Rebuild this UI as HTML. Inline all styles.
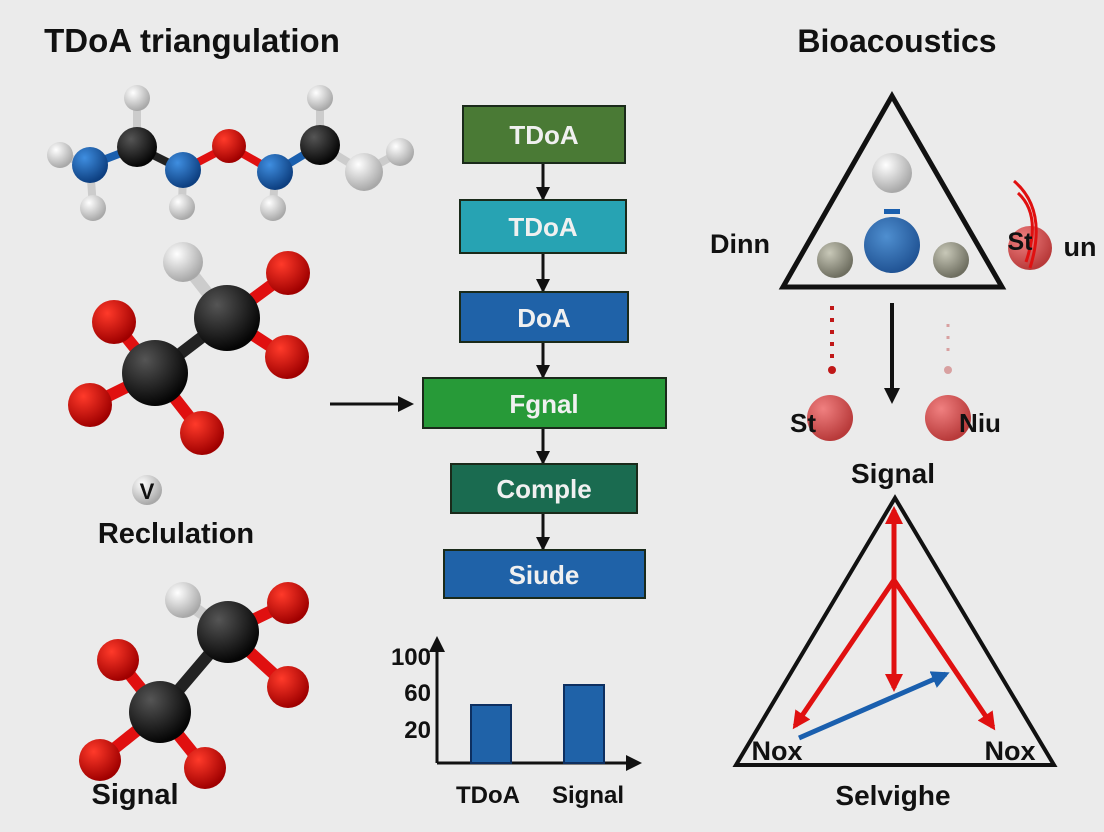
<!DOCTYPE html>
<html><head><meta charset="utf-8"><style>
html,body{margin:0;padding:0;background:#ebebeb;}
svg{display:block;font-family:"Liberation Sans",sans-serif;font-weight:bold;}
</style></head><body>
<svg width="1104" height="832" viewBox="0 0 1104 832" xmlns="http://www.w3.org/2000/svg">
<defs>
<radialGradient id="gw" cx="35%" cy="30%" r="70%"><stop offset="0" stop-color="#ffffff"/><stop offset="1" stop-color="#a8a8a8"/></radialGradient>
<radialGradient id="gb" cx="35%" cy="30%" r="70%"><stop offset="0" stop-color="#3f8ee0"/><stop offset="1" stop-color="#0d3f80"/></radialGradient>
<radialGradient id="gr" cx="35%" cy="30%" r="70%"><stop offset="0" stop-color="#ff3a2a"/><stop offset="1" stop-color="#a00000"/></radialGradient>
<radialGradient id="gk" cx="35%" cy="30%" r="70%"><stop offset="0" stop-color="#555"/><stop offset="1" stop-color="#050505"/></radialGradient>
<radialGradient id="gp" cx="35%" cy="30%" r="70%"><stop offset="0" stop-color="#f08080"/><stop offset="1" stop-color="#b83a3a"/></radialGradient>
<radialGradient id="gg" cx="35%" cy="30%" r="70%"><stop offset="0" stop-color="#c8c8b8"/><stop offset="1" stop-color="#6e6e60"/></radialGradient>
<radialGradient id="gB" cx="40%" cy="35%" r="70%"><stop offset="0" stop-color="#4f8fd0"/><stop offset="1" stop-color="#1d4f90"/></radialGradient>
<marker id="ak" markerWidth="14" markerHeight="14" refX="12" refY="7" orient="auto" markerUnits="userSpaceOnUse"><path d="M0,0 L14,7 L0,14z" fill="#111"/></marker>
<marker id="ar" markerWidth="18" markerHeight="18" refX="14" refY="9" orient="auto" markerUnits="userSpaceOnUse"><path d="M0,0 L18,9 L0,18z" fill="#e01010"/></marker>
<marker id="ab" markerWidth="18" markerHeight="18" refX="14" refY="9" orient="auto" markerUnits="userSpaceOnUse"><path d="M0,0 L18,9 L0,18z" fill="#1a5fae"/></marker>
<marker id="aK" markerWidth="16" markerHeight="16" refX="12" refY="8" orient="auto" markerUnits="userSpaceOnUse"><path d="M0,0 L16,8 L0,16z" fill="#111"/></marker>
</defs>

<text x="192" y="52" font-size="33" text-anchor="middle" fill="#111">TDoA triangulation</text>
<text x="897" y="52" font-size="32" text-anchor="middle" fill="#111">Bioacoustics</text>

<g stroke-width="8" stroke-linecap="round">
<line x1="60" y1="155" x2="90" y2="165" stroke="#ccc"/>
<line x1="90" y1="165" x2="93" y2="208" stroke="#ccc"/>
<line x1="90" y1="165" x2="137" y2="147" stroke="#1a5fae"/>
<line x1="137" y1="98" x2="137" y2="147" stroke="#ccc"/>
<line x1="137" y1="147" x2="183" y2="170" stroke="#222"/>
<line x1="183" y1="170" x2="182" y2="207" stroke="#ccc"/>
<line x1="183" y1="170" x2="229" y2="146" stroke="#e01010"/>
<line x1="229" y1="146" x2="275" y2="172" stroke="#e01010"/>
<line x1="275" y1="172" x2="273" y2="208" stroke="#ccc"/>
<line x1="275" y1="172" x2="320" y2="145" stroke="#1a5fae"/>
<line x1="320" y1="98" x2="320" y2="145" stroke="#ccc"/>
<line x1="320" y1="145" x2="364" y2="172" stroke="#ccc"/>
<line x1="364" y1="172" x2="400" y2="152" stroke="#ccc"/>
</g>
<circle cx="60" cy="155" r="13" fill="url(#gw)"/>
<circle cx="93" cy="208" r="13" fill="url(#gw)"/>
<circle cx="90" cy="165" r="18" fill="url(#gb)"/>
<circle cx="137" cy="98" r="13" fill="url(#gw)"/>
<circle cx="137" cy="147" r="20" fill="url(#gk)"/>
<circle cx="182" cy="207" r="13" fill="url(#gw)"/>
<circle cx="183" cy="170" r="18" fill="url(#gb)"/>
<circle cx="229" cy="146" r="17" fill="url(#gr)"/>
<circle cx="273" cy="208" r="13" fill="url(#gw)"/>
<circle cx="275" cy="172" r="18" fill="url(#gb)"/>
<circle cx="320" cy="98" r="13" fill="url(#gw)"/>
<circle cx="320" cy="145" r="20" fill="url(#gk)"/>
<circle cx="400" cy="152" r="14" fill="url(#gw)"/>
<circle cx="364" cy="172" r="19" fill="url(#gw)"/>

<g stroke-width="12" stroke-linecap="round">
<line x1="183" y1="262" x2="227" y2="318" stroke="#ccc"/>
<line x1="227" y1="318" x2="155" y2="373" stroke="#222"/>
<line x1="227" y1="318" x2="288" y2="273" stroke="#e01010"/>
<line x1="227" y1="318" x2="287" y2="357" stroke="#e01010"/>
<line x1="155" y1="373" x2="114" y2="322" stroke="#e01010"/>
<line x1="155" y1="373" x2="90" y2="405" stroke="#e01010"/>
<line x1="155" y1="373" x2="202" y2="433" stroke="#e01010"/>
</g>
<circle cx="183" cy="262" r="20" fill="url(#gw)"/>
<circle cx="288" cy="273" r="22" fill="url(#gr)"/>
<circle cx="287" cy="357" r="22" fill="url(#gr)"/>
<circle cx="114" cy="322" r="22" fill="url(#gr)"/>
<circle cx="90" cy="405" r="22" fill="url(#gr)"/>
<circle cx="202" cy="433" r="22" fill="url(#gr)"/>
<circle cx="227" cy="318" r="33" fill="url(#gk)"/>
<circle cx="155" cy="373" r="33" fill="url(#gk)"/>

<circle cx="147" cy="490" r="15" fill="url(#gw)"/>
<text x="147" y="499" font-size="22" text-anchor="middle" fill="#111">V</text>
<text x="176" y="543" font-size="29" text-anchor="middle" fill="#111">Reclulation</text>

<g stroke-width="12" stroke-linecap="round">
<line x1="183" y1="600" x2="228" y2="632" stroke="#ccc"/>
<line x1="228" y1="632" x2="160" y2="712" stroke="#222"/>
<line x1="228" y1="632" x2="288" y2="603" stroke="#e01010"/>
<line x1="228" y1="632" x2="288" y2="687" stroke="#e01010"/>
<line x1="160" y1="712" x2="118" y2="660" stroke="#e01010"/>
<line x1="160" y1="712" x2="100" y2="760" stroke="#e01010"/>
<line x1="160" y1="712" x2="205" y2="768" stroke="#e01010"/>
</g>
<circle cx="183" cy="600" r="18" fill="url(#gw)"/>
<circle cx="288" cy="603" r="21" fill="url(#gr)"/>
<circle cx="288" cy="687" r="21" fill="url(#gr)"/>
<circle cx="118" cy="660" r="21" fill="url(#gr)"/>
<circle cx="100" cy="760" r="21" fill="url(#gr)"/>
<circle cx="205" cy="768" r="21" fill="url(#gr)"/>
<circle cx="228" cy="632" r="31" fill="url(#gk)"/>
<circle cx="160" cy="712" r="31" fill="url(#gk)"/>
<text x="135" y="804" font-size="29" text-anchor="middle" fill="#111">Signal</text>

<line x1="330" y1="404" x2="410" y2="404" stroke="#111" stroke-width="3" marker-end="url(#aK)"/>

<g stroke="#111" stroke-width="3">
<line x1="543" y1="163" x2="543" y2="199" marker-end="url(#ak)"/>
<line x1="543" y1="253" x2="543" y2="291" marker-end="url(#ak)"/>
<line x1="543" y1="342" x2="543" y2="377" marker-end="url(#ak)"/>
<line x1="543" y1="428" x2="543" y2="463" marker-end="url(#ak)"/>
<line x1="543" y1="513" x2="543" y2="549" marker-end="url(#ak)"/>
</g>
<g stroke="#1a2a1a" stroke-width="2">
<rect x="463" y="106" width="162" height="57" fill="#4a7a35"/>
<rect x="460" y="200" width="166" height="53" fill="#27a3b3"/>
<rect x="460" y="292" width="168" height="50" fill="#1f62a8"/>
<rect x="423" y="378" width="243" height="50" fill="#279a38"/>
<rect x="451" y="464" width="186" height="49" fill="#1a6b50"/>
<rect x="444" y="550" width="201" height="48" fill="#1f62a8"/>
</g>
<g font-size="26" text-anchor="middle" fill="#f0f0f0">
<text x="544" y="144">TDoA</text>
<text x="543" y="236">TDoA</text>
<text x="544" y="327">DoA</text>
<text x="544" y="413">Fgnal</text>
<text x="544" y="498">Comple</text>
<text x="544" y="584">Siude</text>
</g>

<line x1="437" y1="763" x2="437" y2="640" stroke="#111" stroke-width="3" marker-end="url(#aK)"/>
<line x1="437" y1="763" x2="638" y2="763" stroke="#111" stroke-width="3" marker-end="url(#aK)"/>
<rect x="471" y="705" width="40" height="58" fill="#1f62a8" stroke="#0d2f60" stroke-width="2"/>
<rect x="564" y="685" width="40" height="78" fill="#1f62a8" stroke="#0d2f60" stroke-width="2"/>
<g font-size="24" fill="#111" text-anchor="end">
<text x="431" y="665">100</text><text x="431" y="701">60</text><text x="431" y="738">20</text>
</g>
<g font-size="24" fill="#111" text-anchor="middle">
<text x="488" y="803">TDoA</text><text x="588" y="803">Signal</text>
</g>

<polygon points="892,96 783,287 1002,287" fill="none" stroke="#111" stroke-width="5"/>
<circle cx="892" cy="173" r="20" fill="url(#gw)"/>
<rect x="884" y="209" width="16" height="5" fill="#1a5fae"/>
<circle cx="892" cy="245" r="28" fill="url(#gB)"/>
<circle cx="835" cy="260" r="18" fill="url(#gg)"/>
<circle cx="951" cy="260" r="18" fill="url(#gg)"/>
<text x="740" y="253" font-size="27" fill="#111" text-anchor="middle">Dinn</text>
<circle cx="1030" cy="248" r="22" fill="url(#gp)"/>
<path d="M1014,181 Q1048,210 1030,268" fill="none" stroke="#e01010" stroke-width="3"/>
<path d="M1018,193 Q1042,215 1026,262" fill="none" stroke="#e01010" stroke-width="3"/>
<text x="1020" y="250" font-size="25" fill="#111" text-anchor="middle">St</text>
<text x="1080" y="256" font-size="27" fill="#111" text-anchor="middle">un</text>
<line x1="832" y1="306" x2="832" y2="362" stroke="#c01818" stroke-width="4" stroke-dasharray="4,8"/>
<circle cx="832" cy="370" r="4" fill="#c01818"/>
<line x1="948" y1="324" x2="948" y2="360" stroke="#d8a0a0" stroke-width="3" stroke-dasharray="3,9"/>
<circle cx="948" cy="370" r="4" fill="#d8a0a0"/>
<line x1="892" y1="303" x2="892" y2="400" stroke="#111" stroke-width="4" marker-end="url(#aK)"/>
<circle cx="830" cy="418" r="23" fill="url(#gp)"/>
<circle cx="948" cy="418" r="23" fill="url(#gp)"/>
<text x="803" y="432" font-size="26" fill="#111" text-anchor="middle">St</text>
<text x="980" y="432" font-size="26" fill="#111" text-anchor="middle">Niu</text>
<text x="893" y="483" font-size="28" fill="#111" text-anchor="middle">Signal</text>

<polygon points="895,498 736,765 1054,765" fill="none" stroke="#111" stroke-width="4"/>
<g stroke="#e01010" stroke-width="5" fill="none">
<line x1="894" y1="580" x2="894" y2="510" marker-end="url(#ar)"/>
<line x1="894" y1="580" x2="894" y2="688" marker-end="url(#ar)"/>
<line x1="894" y1="580" x2="795" y2="726" marker-end="url(#ar)"/>
<line x1="894" y1="580" x2="993" y2="727" marker-end="url(#ar)"/>
</g>
<line x1="799" y1="738" x2="946" y2="674" stroke="#1a5fae" stroke-width="5" marker-end="url(#ab)"/>
<text x="777" y="760" font-size="27" fill="#111" text-anchor="middle">Nox</text>
<text x="1010" y="760" font-size="27" fill="#111" text-anchor="middle">Nox</text>
<text x="893" y="805" font-size="28" fill="#111" text-anchor="middle">Selvighe</text>
</svg>
</body></html>
